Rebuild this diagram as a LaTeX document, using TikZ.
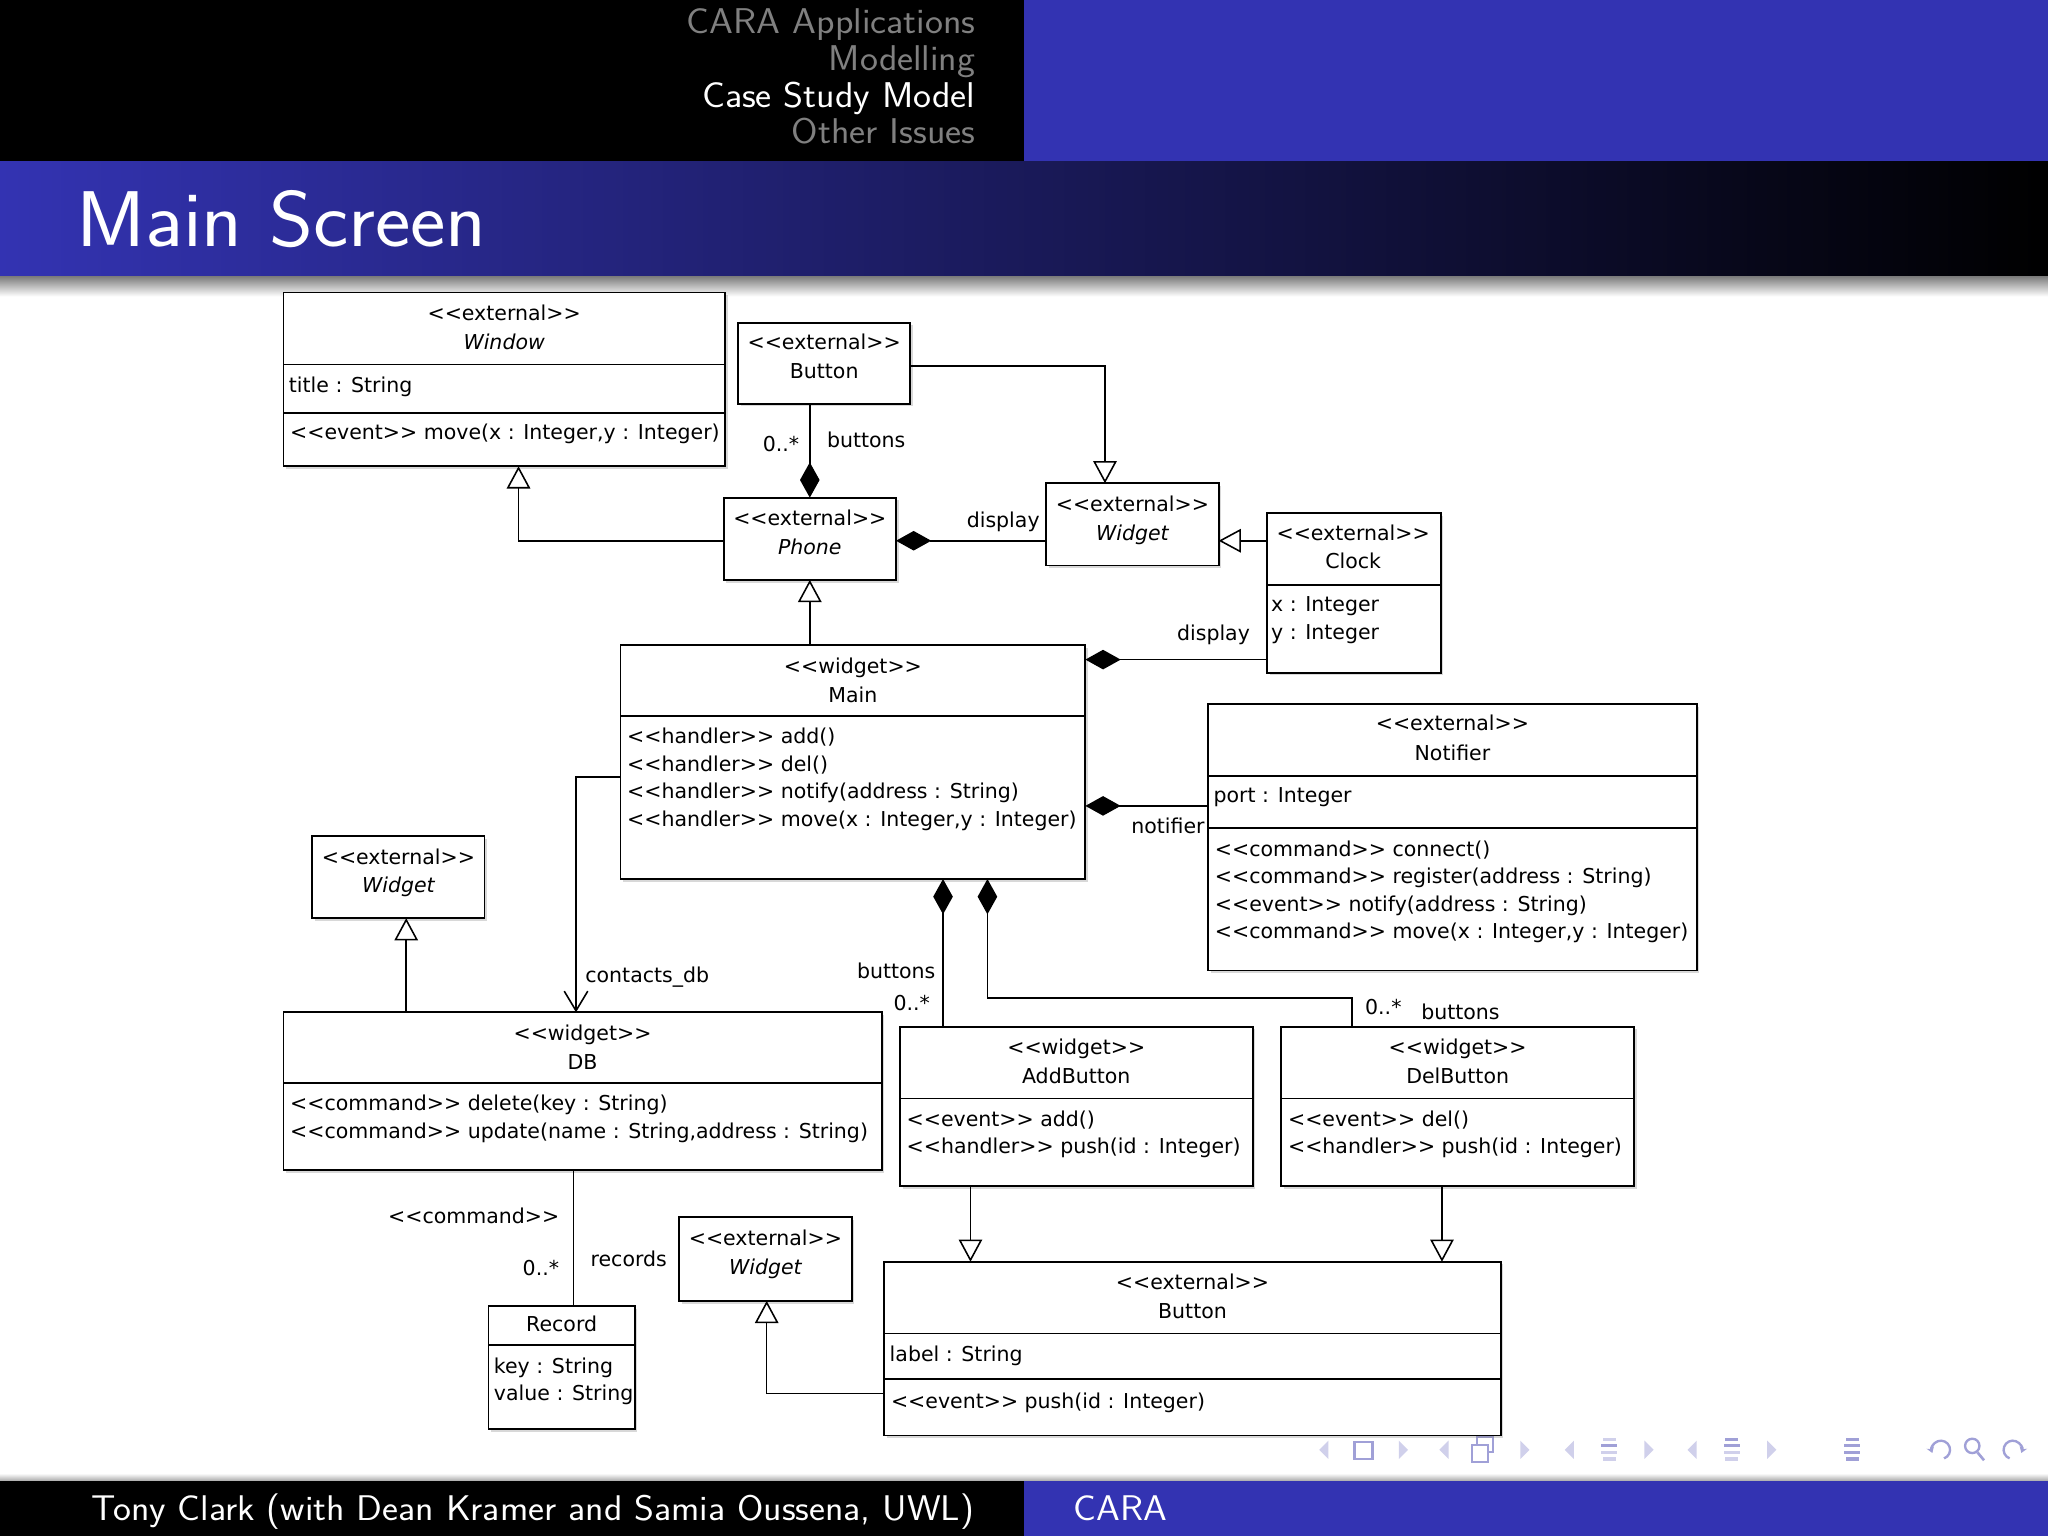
\documentclass[tikz,border=0pt]{standalone}
\usepackage{fontspec}
\newfontfamily\umlfont{DejaVu Sans}
\usetikzlibrary{arrows.meta,shadows}
\definecolor{bblue}{RGB}{51,51,178}
\definecolor{secgray}{RGB}{128,128,128}
\definecolor{navl}{RGB}{208,208,235}
\definecolor{navd}{RGB}{160,160,215}
\newcommand\ufont{\umlfont\fontsize{15.7}{18}\selectfont}
\newcommand\bfnt[1]{\sffamily\fontsize{#1}{#1}\selectfont}
\newcommand\wide[1]{\scalebox{1.067}[1]{#1}}
\newcommand\ubox[5]{\node[ubox, minimum width={#4-#2}, minimum height={#5-#3}] (#1) at ({(#2+#4)/2},{(#3+#5)/2}) {};}
\newcommand\udiv[2]{\draw[uline] (#1.west |- 0,#2) -- (#1.east |- 0,#2);}
\tikzset{
 ubox/.style={draw, line width=1.4pt, fill=white, inner sep=0pt, outer sep=0pt,
   drop shadow={shadow xshift=2pt, shadow yshift=-2pt, opacity=0.3}},
 uline/.style={line width=1.4pt},
 ut/.style={font=\ufont, inner sep=0pt, anchor=base},
 utl/.style={ut, anchor=base west},
 utr/.style={ut, anchor=base east},
 uti/.style={ut, font=\ufont\itshape},
 conn/.style={line width=1.2pt},
 gen/.style={conn, -{Triangle[open, length=17pt, width=18pt]}},
 comp/.style={conn, {Diamond[length=27pt, width=15pt]}-},
 openarr/.style={conn, -{Straight Barb[length=15pt, width=18pt]}},
 hdr/.style={font=\bfnt{27.4}, inner sep=0pt, anchor=base east},
 ftr/.style={font=\bfnt{27.3}, inner sep=0pt, anchor=base west, text=white},
 navicon/.style={navd, line width=1.8pt},
}
\begin{document}
\begin{tikzpicture}[x=1pt,y=-1pt]
\useasboundingbox (0,0) rectangle (1568,1176);
\fill[white] (0,0) rectangle (1568,1176);
% header
\fill[black] (0,0) rectangle (784,124);
\fill[bblue] (784,0) rectangle (1568,124);
\node[hdr, text=secgray] (sec1) at (747,25.5) {\wide{CARA Applications}};
\node[hdr, text=secgray] (sec2) at (747,53.7) {\wide{Modelling}};
\node[hdr, text=white] (sec3) at (747,82) {\wide{Case Study Model}};
\node[hdr, text=secgray] (sec4) at (747,110) {\wide{Other Issues}};
% title bar
\shade[left color=bblue, right color=black] (0,124) rectangle (1568,212);
\shade[top color=black!50, bottom color=white] (0,212) rectangle (1568,227);
\node[font=\bfnt{60.5}, inner sep=0pt, anchor=base west, text=white] (title) at (58,189) {\wide{Main Screen}};
% footer
\shade[top color=white, bottom color=black!35] (0,1128) rectangle (1568,1134);
\fill[black] (0,1134) rectangle (784,1176);
\fill[bblue] (784,1134) rectangle (1568,1176);
\node[ftr] (author) at (70,1164) {\wide{Tony Clark (with Dean Kramer and Samia Oussena, UWL)}};
\node[ftr] (short) at (822,1164) {\wide{CARA}};
% navigation symbols
\foreach \x in {1014,1106,1202,1296} \fill[navl] (\x+3,1103) -- (\x-4,1110) -- (\x+3,1117) -- cycle;
\foreach \x in {1074,1167,1262,1356} \fill[navl] (\x-3,1103) -- (\x+4,1110) -- (\x-3,1117) -- cycle;
\draw[navicon, line width=2pt] (1037,1104) rectangle (1051,1117);
\draw[navicon, line width=1.6pt, fill=white] (1131,1100) rectangle (1143,1112);
\draw[navicon, line width=1.6pt, fill=white] (1127,1106) rectangle (1139,1119);
\foreach \x/\ca/\cb/\cc/\cd in {1232/navl/navd/navl/navl,1326/navd/navd/navl/navl,1418/navd/navd/navd/navd}{
  \fill[\ca] (\x-5,1100.8) rectangle (\x+5,1103.2);
  \fill[\cb] (\x-6,1105.8) rectangle (\x+6,1108.2);
  \fill[\cc] (\x-6,1110.8) rectangle (\x+6,1113.2);
  \fill[\cd] (\x-5,1115.8) rectangle (\x+5,1118.2);}
\draw[navicon, {Stealth[length=4.5pt,width=6pt]}-] (1486,1110) ++(-200:7) arc[start angle=-200, end angle=70, radius=7];
\draw[navicon] (1510,1107) circle[radius=5.5];
\draw[navicon, line width=2pt] (1514,1112) -- (1519,1118);
\draw[navicon, {Stealth[length=4.5pt,width=6pt]}-] (1541,1110) ++(20:7) arc[start angle=20, end angle=-250, radius=7];
% ---------- UML boxes ----------
\ubox{window}{217}{224}{555}{357}
\udiv{window}{279}\udiv{window}{316}
\ubox{btop}{565}{247}{697}{309}
\ubox{phone}{554}{381}{686}{444}
\ubox{wtop}{801}{370}{933}{433}
\ubox{clock}{970}{393}{1103}{515}
\udiv{clock}{448}
\ubox{main}{475}{494}{831}{673}
\udiv{main}{548}
\ubox{notifier}{925}{539}{1299}{743}
\udiv{notifier}{594}\udiv{notifier}{634}
\ubox{wleft}{239}{640}{371}{703}
\ubox{db}{217}{775}{675}{896}
\udiv{db}{829}
\ubox{addb}{689}{786}{959}{908}
\udiv{addb}{841}
\ubox{delb}{981}{786}{1251}{908}
\udiv{delb}{841}
\ubox{record}{374}{1000}{486}{1094}
\udiv{record}{1030}
\ubox{wbot}{520}{932}{652}{996}
\ubox{bbot}{677}{966}{1149}{1099}
\udiv{bbot}{1021}\udiv{bbot}{1056}
% ---------- texts ----------
\node[ut] (win-s) at (386,245.5) {<<external>>};
\node[uti] (win-n) at (386,267.5) {Window};
\node[utl] (win-a) at (221,300.5) {title : String};
\node[utl] (win-o) at (222,336.5) {<<event>> move(x : Integer,y : Integer)};
\node[ut] (btop-s) at (631,267.5) {<<external>>};
\node[ut] (btop-n) at (631,289.5) {Button};
\node[ut] (phone-s) at (620,402.5) {<<external>>};
\node[uti] (phone-n) at (620,424.5) {Phone};
\node[ut] (wtop-s) at (867,391.5) {<<external>>};
\node[uti] (wtop-n) at (867,413.5) {Widget};
\node[ut] (clock-s) at (1036,413.5) {<<external>>};
\node[ut] (clock-n) at (1036,435.5) {Clock};
\node[utl] (clock-a1) at (973,468.5) {x : Integer};
\node[utl] (clock-a2) at (973,489.5) {y : Integer};
\node[ut] (main-s) at (653,515.5) {<<widget>>};
\node[ut] (main-n) at (653,537.5) {Main};
\node[utl] (main-o1) at (480,569.5) {<<handler>> add()};
\node[utl] (main-o2) at (480,590.5) {<<handler>> del()};
\node[utl] (main-o3) at (480,611.5) {<<handler>> notify(address : String)};
\node[utl] (main-o4) at (480,632.5) {<<handler>> move(x : Integer,y : Integer)};
\node[ut] (not-s) at (1112,559.5) {<<external>>};
\node[ut] (not-n) at (1112,582.5) {Notifier};
\node[utl] (not-a) at (929,614.5) {port : Integer};
\node[utl] (not-o1) at (930,655.5) {<<command>> connect()};
\node[utl] (not-o2) at (930,676.5) {<<command>> register(address : String)};
\node[utl] (not-o3) at (930,697.5) {<<event>> notify(address : String)};
\node[utl] (not-o4) at (930,718.5) {<<command>> move(x : Integer,y : Integer)};
\node[ut] (wleft-s) at (305,661.5) {<<external>>};
\node[uti] (wleft-n) at (305,683.5) {Widget};
\node[ut] (db-s) at (446,796.5) {<<widget>>};
\node[ut] (db-n) at (446,818.5) {DB};
\node[utl] (db-o1) at (222,850.5) {<<command>> delete(key : String)};
\node[utl] (db-o2) at (222,871.5) {<<command>> update(name : String,address : String)};
\node[ut] (addb-s) at (824,807.5) {<<widget>>};
\node[ut] (addb-n) at (824,829.5) {AddButton};
\node[utl] (addb-o1) at (694,862.5) {<<event>> add()};
\node[utl] (addb-o2) at (694,883.5) {<<handler>> push(id : Integer)};
\node[ut] (delb-s) at (1116,807.5) {<<widget>>};
\node[ut] (delb-n) at (1116,829.5) {DelButton};
\node[utl] (delb-o1) at (986,862.5) {<<event>> del()};
\node[utl] (delb-o2) at (986,883.5) {<<handler>> push(id : Integer)};
\node[ut] (rec-n) at (430,1019.5) {Record};
\node[utl] (rec-a1) at (378,1051.5) {key : String};
\node[utl] (rec-a2) at (378,1072.5) {value : String};
\node[ut] (wbot-s) at (586,953.5) {<<external>>};
\node[uti] (wbot-n) at (586,975.5) {Widget};
\node[ut] (bbot-s) at (913,987.5) {<<external>>};
\node[ut] (bbot-n) at (913,1009.5) {Button};
\node[utl] (bbot-a) at (681,1042.5) {label : String};
\node[utl] (bbot-o) at (682,1078.5) {<<event>> push(id : Integer)};
% ---------- connectors ----------
\draw[gen] (phone.west |- 0,414) -| (window.south -| 397,0);
\draw[comp] (phone.north) -- (phone.north |- btop.south);
\draw[gen] (btop.east |- 0,280) -| (wtop.north -| 846,0);
\draw[comp] (phone.east |- 0,414) -- (wtop.west |- 0,414);
\draw[gen] (clock.west |- 0,414) -- (wtop.east |- 0,414);
\draw[gen] (main.north -| phone.south) -- (phone.south);
\draw[comp] (main.east |- 0,505) -- (clock.west |- 0,505);
\draw[comp] (main.east |- 0,617) -- (notifier.west |- 0,617);
\draw[openarr] (main.west |- 0,595) -| (db.north -| 441,0);
\draw[gen] (db.north -| 311,0) -- (wleft.south -| 311,0);
\draw[comp] (main.south -| 722,0) -- (addb.north -| 722,0);
\draw[comp] (main.south -| 756,0) -- (756,764) -| (delb.north -| 1035,0);
\draw[gen] (addb.south -| 743,0) -- (bbot.north -| 743,0);
\draw[gen] (delb.south -| 1104,0) -- (bbot.north -| 1104,0);
\draw[gen] (bbot.west |- 0,1067) -| (wbot.south -| 587,0);
\draw[conn] (db.south -| 439,0) -- (record.north -| 439,0);
% ---------- connector labels ----------
\node[utr] (l-btn-m) at (612,345.5) {0..*};
\node[utl] (l-btn-r) at (633,342.5) {buttons};
\node[utl] (l-disp1) at (740,403.5) {display};
\node[utl] (l-disp2) at (901,490.5) {display};
\node[utl] (l-notif) at (866,638.5) {notifier};
\node[utl] (l-cdb) at (448,752.5) {contacts\_db};
\node[utl] (l-ab-r) at (656,749.5) {buttons};
\node[utl] (l-ab-m) at (684,773.5) {0..*};
\node[utl] (l-db-m) at (1045,776.5) {0..*};
\node[utl] (l-db-r) at (1088,780.5) {buttons};
\node[utl] (l-cmd) at (297,936.5) {<<command>>};
\node[utl] (l-rec-m) at (400,976.5) {0..*};
\node[utl] (l-rec-r) at (452,969.5) {records};
\end{tikzpicture}
\end{document}
